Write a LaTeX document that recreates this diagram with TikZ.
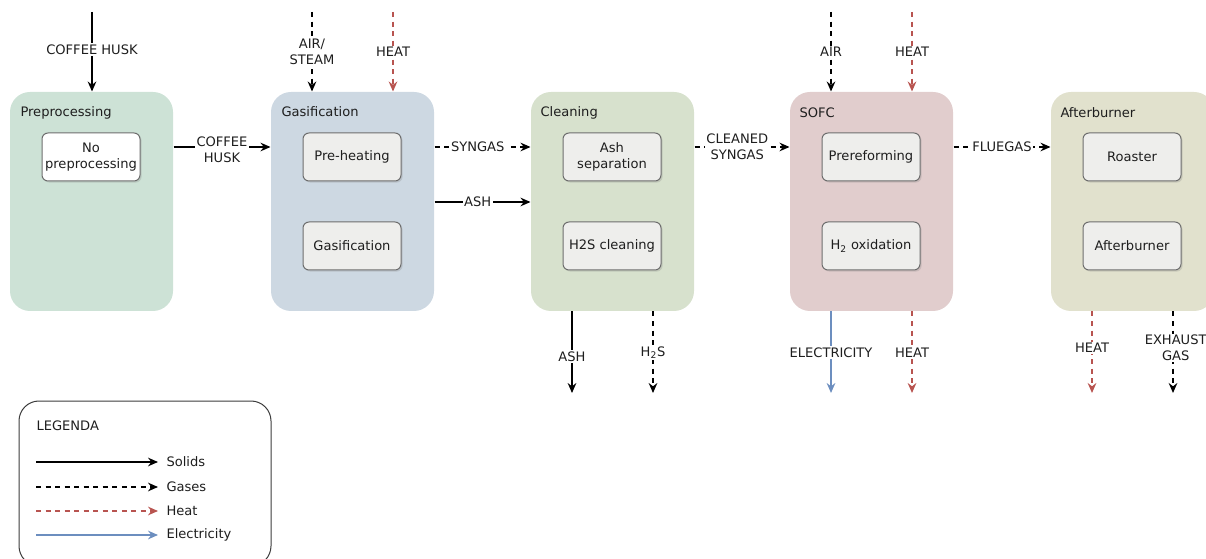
\documentclass[tikz,border=0pt]{standalone}
\usepackage{fontspec}
\setmainfont{DejaVu Sans}
\usetikzlibrary{arrows.meta,shadows}

\definecolor{heatred}{RGB}{184,84,80}
\definecolor{elecblue}{RGB}{108,142,191}
\definecolor{preprocfill}{RGB}{205,226,214}
\definecolor{gasfill}{RGB}{205,216,226}
\definecolor{cleanfill}{RGB}{215,225,205}
\definecolor{sofcfill}{RGB}{225,205,205}
\definecolor{afterfill}{RGB}{225,225,205}
\definecolor{unitfill}{RGB}{238,238,236}
\definecolor{unitdraw}{RGB}{110,110,110}
\definecolor{labeltext}{RGB}{30,30,30}

\tikzset{every picture/.style={line width=0.75pt}}
\tikzset{
  stage/.style={draw=none, rounded corners=15pt, minimum width=122.25pt, minimum height=164.25pt, inner sep=0pt},
  unit/.style={draw=unitdraw, fill=unitfill, rounded corners=4.5pt, minimum width=73.5pt, minimum height=36pt, inner sep=1pt, align=center,
    drop shadow={opacity=0.25, shadow xshift=1.2pt, shadow yshift=-1.2pt}},
  stagetitle/.style={anchor=west, inner sep=0pt},
  flowlabel/.style={fill=white, text=labeltext, inner sep=1pt, align=center},
  solids/.style={line width=1.1pt, -{Stealth[length=7.5pt, width=6.5pt, inset=2.5pt]}},
  gases/.style={solids, dash pattern=on 3.75pt off 3.4pt},
  heat/.style={gases, color=heatred},
  elec/.style={solids, color=elecblue},
}

\begin{document}
\begin{tikzpicture}[x=0.75pt,y=0.75pt,yscale=-1,xscale=1, font=\fontsize{9.8pt}{12pt}\selectfont, text=labeltext]
        \useasboundingbox (0,0) rectangle (1206,559);

        %Shape: Stage blocks
        \node [stage, fill=preprocfill] (pre) at (91.5,201.5) {};
        \node [stage, fill=gasfill] (gas) at (352.5,201.5) {};
        \node [stage, fill=cleanfill] (cle) at (612.5,201.5) {};
        \node [stage, fill=sofcfill] (sofc) at (871.5,201.5) {};
        \node [stage, fill=afterfill] (aft) at (1132.5,201.5) {};

        % Text Node
        \node [stagetitle] (tpre) at (20,113) {Preprocessing};
        \node [stagetitle] (tgas) at (281,112) {Gasification};
        \node [stagetitle] (tcle) at (540,113) {Cleaning};
        \node [stagetitle] (tsofc) at (799,113) {SOFC};
        \node [stagetitle] (taft) at (1060,113) {Afterburner};

        %Shape: Unit boxes
        \node [unit, fill=white] (noprep) at (91,157) {No\\preprocessing};
        \node [unit] (preheat) at (352,157) {Pre-heating};
        \node [unit] (gasif) at (352,246) {Gasification};
        \node [unit] (ashsep) at (612,157) {Ash\\separation};
        \node [unit] (htwos) at (612,246) {H2S cleaning};
        \node [unit] (prerefo) at (871,157) {Prereforming};
        \node [unit] (htwoox) at (871,246) {H\textsubscript{2} oxidation};
        \node [unit] (roast) at (1132,157) {Roaster};
        \node [unit] (burner) at (1132,246) {Afterburner};

        % Coordinates for free ends
        \coordinate (gasrow) at (0,147);
        \coordinate (ashrow) at (0,202);
        \coordinate (huskin) at (92,12);
        \coordinate (airsteamin) at (312,12);
        \coordinate (gasheatin) at (393,12);
        \coordinate (airin) at (831,12);
        \coordinate (sofcheatin) at (912,12);
        \coordinate (ashout) at (572,393);
        \coordinate (htwosout) at (653,393);
        \coordinate (elecout) at (831,393);
        \coordinate (sofcheatout) at (912,393);
        \coordinate (aftheatout) at (1092,393);
        \coordinate (exhaustout) at (1173,393);

        %Straight Lines: inputs
        \draw [solids] (huskin) -- node [flowlabel, pos=0.47] (lhuskin) {COFFEE HUSK} (pre.north -| huskin);
        \draw [gases] (airsteamin) -- node [flowlabel] (lairsteam) {AIR/\\STEAM} (gas.north -| airsteamin);
        \draw [heat] (gasheatin) -- node [flowlabel] (lgasheat) {HEAT} (gas.north -| gasheatin);
        \draw [gases] (airin) -- node [flowlabel] (lair) {AIR} (sofc.north -| airin);
        \draw [heat] (sofcheatin) -- node [flowlabel] (lsofcheat) {HEAT} (sofc.north -| sofcheatin);

        %Straight Lines: between stages
        \draw [solids] (pre.east |- gasrow) -- node [flowlabel, yshift=-2pt] (lhusk) {COFFEE\\HUSK} (gas.west |- gasrow);
        \draw [gases] (gas.east |- gasrow) -- node [flowlabel, pos=0.45] (lsyngas) {SYNGAS} (cle.west |- gasrow);
        \draw [solids] (gas.east |- ashrow) -- node [flowlabel, pos=0.45] (lash) {ASH} (cle.west |- ashrow);
        \draw [gases] (cle.east |- gasrow) -- node [flowlabel, pos=0.45] (lcleaned) {CLEANED\\SYNGAS} (sofc.west |- gasrow);
        \draw [gases] (sofc.east |- gasrow) -- node [flowlabel] (lfluegas) {FLUEGAS} (aft.west |- gasrow);

        %Straight Lines: outputs
        \draw [solids] (cle.south -| ashout) -- node [flowlabel, pos=0.55] (lashout) {ASH} (ashout);
        \draw [gases] (cle.south -| htwosout) -- node [flowlabel] (lhtwosout) {H\textsubscript{2}S} (htwosout);
        \draw [elec] (sofc.south -| elecout) -- node [flowlabel] (lelec) {ELECTRICITY} (elecout);
        \draw [heat] (sofc.south -| sofcheatout) -- node [flowlabel] (lsofcheatout) {HEAT} (sofcheatout);
        \draw [heat] (aft.south -| aftheatout) -- node [flowlabel, pos=0.45] (laftheat) {HEAT} (aftheatout);
        \draw [gases] (aft.south -| exhaustout) -- node [flowlabel, pos=0.45, xshift=2pt] (lexhaust) {EXHAUST\\GAS} (exhaustout);

        %Shape: Legend
        \draw [draw={rgb,255:red,60;green,60;blue,60}, rounded corners=15pt] (19,401) rectangle (271,566);
        \node [anchor=west, inner sep=0pt] (legtitle) at (36,426) {LEGENDA};
        \node [anchor=west, inner sep=0pt] (legsolids) at (166,462) {Solids};
        \node [anchor=west, inner sep=0pt] (leggases) at (166,487) {Gases};
        \node [anchor=west, inner sep=0pt] (legheat) at (166,511) {Heat};
        \node [anchor=west, inner sep=0pt] (legelec) at (166,535) {Electricity};
        \coordinate (legstart) at (36,0);
        \draw [solids] (legstart |- legsolids) -- ([xshift=-6pt]legsolids.west);
        \draw [gases] (legstart |- leggases) -- ([xshift=-6pt]leggases.west);
        \draw [heat] (legstart |- legheat) -- ([xshift=-6pt]legheat.west);
        \draw [elec] (legstart |- legelec) -- ([xshift=-6pt]legelec.west);

\end{tikzpicture}
\end{document}
